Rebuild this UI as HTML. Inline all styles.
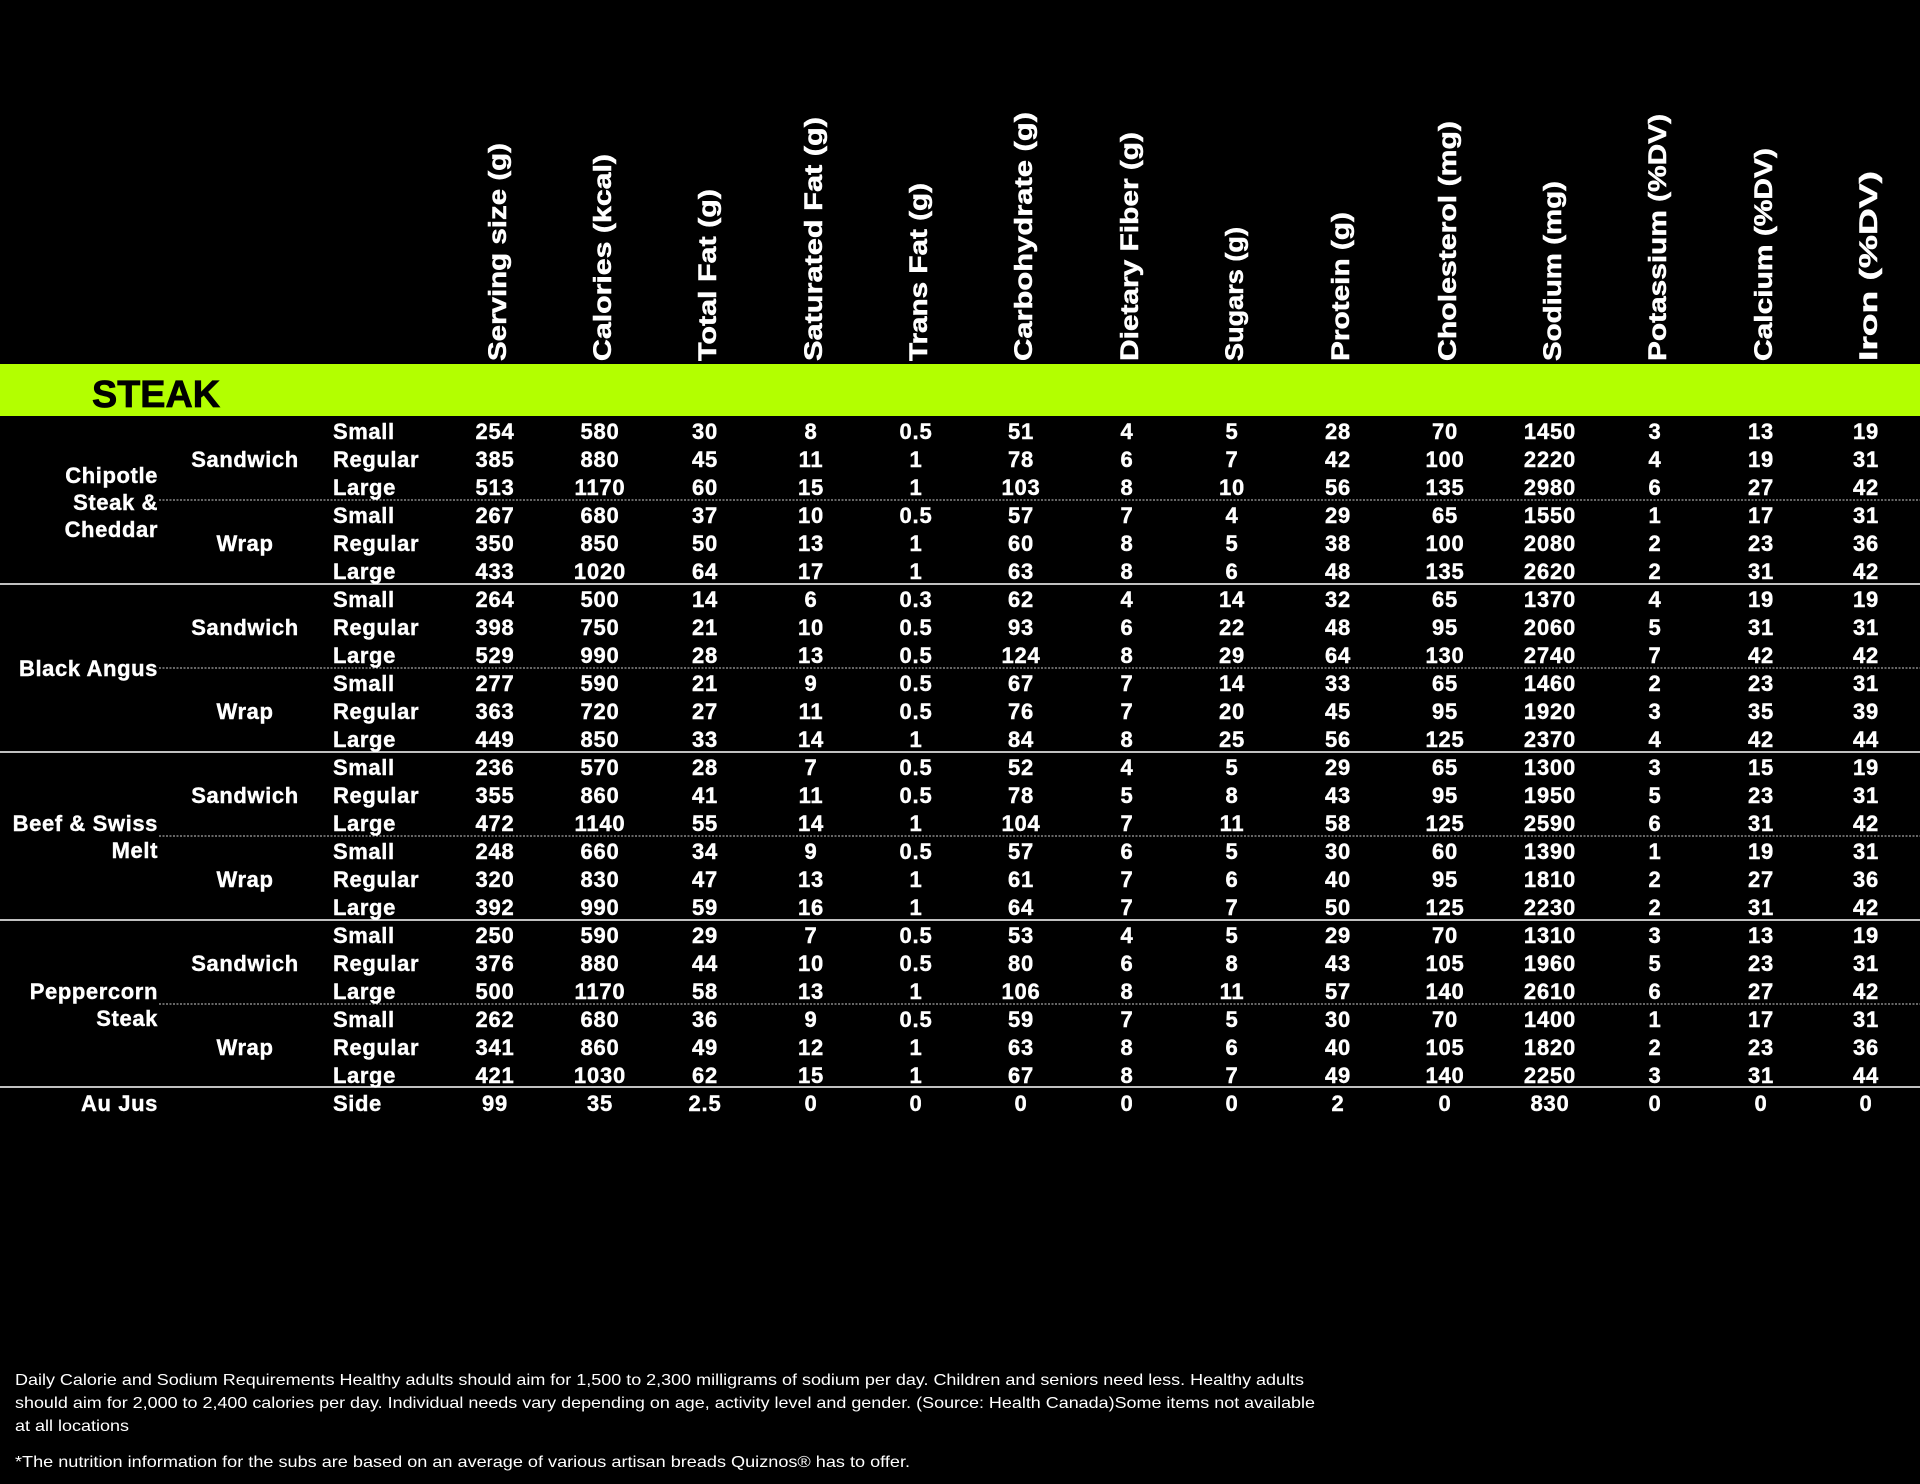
<!DOCTYPE html>
<html><head><meta charset="utf-8"><style>
html,body{margin:0;padding:0;background:#000;}
svg{display:block;}
.h{font-family:"Liberation Sans",sans-serif;font-weight:bold;font-size:25px;fill:#fff;stroke:#fff;stroke-width:0.5px;}
.d text{font-family:"Liberation Sans",sans-serif;font-weight:bold;font-size:22px;letter-spacing:0.8px;fill:#fff;text-anchor:middle;stroke:#fff;stroke-width:0.4px;}
.n{font-family:"Liberation Sans",sans-serif;font-weight:bold;font-size:22px;letter-spacing:0.6px;fill:#fff;stroke:#fff;stroke-width:0.4px;}
.f{font-family:"Liberation Sans",sans-serif;font-size:16px;fill:#fff;}
</style></head><body>
<svg width="1920" height="1484" viewBox="0 0 1920 1484" xmlns="http://www.w3.org/2000/svg">
<rect width="1920" height="1484" fill="#000"/>
<g class="h">
<text transform="translate(506,361) rotate(-90)" textLength="218" lengthAdjust="spacingAndGlyphs">Serving size (g)</text>
<text transform="translate(611,361) rotate(-90)" textLength="207" lengthAdjust="spacingAndGlyphs">Calories (kcal)</text>
<text transform="translate(716,361) rotate(-90)" textLength="172" lengthAdjust="spacingAndGlyphs">Total Fat (g)</text>
<text transform="translate(822,361) rotate(-90)" textLength="244" lengthAdjust="spacingAndGlyphs">Saturated Fat (g)</text>
<text transform="translate(927,361) rotate(-90)" textLength="178" lengthAdjust="spacingAndGlyphs">Trans Fat (g)</text>
<text transform="translate(1032,361) rotate(-90)" textLength="249" lengthAdjust="spacingAndGlyphs">Carbohydrate (g)</text>
<text transform="translate(1138,361) rotate(-90)" textLength="229" lengthAdjust="spacingAndGlyphs">Dietary Fiber (g)</text>
<text transform="translate(1243,361) rotate(-90)" textLength="134" lengthAdjust="spacingAndGlyphs">Sugars (g)</text>
<text transform="translate(1349,361) rotate(-90)" textLength="149" lengthAdjust="spacingAndGlyphs">Protein (g)</text>
<text transform="translate(1456,361) rotate(-90)" textLength="240" lengthAdjust="spacingAndGlyphs">Cholesterol (mg)</text>
<text transform="translate(1561,361) rotate(-90)" textLength="180" lengthAdjust="spacingAndGlyphs">Sodium (mg)</text>
<text transform="translate(1666,361) rotate(-90)" textLength="247" lengthAdjust="spacingAndGlyphs">Potassium (%DV)</text>
<text transform="translate(1772,361) rotate(-90)" textLength="213" lengthAdjust="spacingAndGlyphs">Calcium (%DV)</text>
<text transform="translate(1877,361) rotate(-90)" textLength="190" lengthAdjust="spacingAndGlyphs">Iron (%DV)</text>
</g>
<rect x="0" y="364" width="1920" height="52" fill="#b3ff00"/>
<text x="92" y="407" font-family="Liberation Sans,sans-serif" font-weight="bold" font-size="38" fill="#000" stroke="#000" stroke-width="0.8" textLength="128" lengthAdjust="spacingAndGlyphs">STEAK</text>

<g stroke="#fff" stroke-width="1.5">
<line x1="0" y1="584" x2="1920" y2="584"/>
<line x1="0" y1="752" x2="1920" y2="752"/>
<line x1="0" y1="920" x2="1920" y2="920"/>
<line x1="0" y1="1087" x2="1920" y2="1087"/>
</g>
<g stroke="#ccc" stroke-width="1" stroke-dasharray="2,1.5">
<line x1="159" y1="500" x2="1920" y2="500"/>
<line x1="159" y1="668" x2="1920" y2="668"/>
<line x1="159" y1="836" x2="1920" y2="836"/>
<line x1="159" y1="1004" x2="1920" y2="1004"/>
</g>

<g class="n" text-anchor="end">
<text x="158" y="483">Chipotle</text>
<text x="158" y="510">Steak &amp;</text>
<text x="158" y="537">Cheddar</text>
<text x="158" y="676">Black Angus</text>
<text x="158" y="831">Beef &amp; Swiss</text>
<text x="158" y="858">Melt</text>
<text x="158" y="999">Peppercorn</text>
<text x="158" y="1026">Steak</text>
<text x="158" y="1111">Au Jus</text>
</g>
<g class="n" text-anchor="middle">
<text x="245" y="467">Sandwich</text>
<text x="245" y="551">Wrap</text>
<text x="245" y="635">Sandwich</text>
<text x="245" y="719">Wrap</text>
<text x="245" y="803">Sandwich</text>
<text x="245" y="887">Wrap</text>
<text x="245" y="971">Sandwich</text>
<text x="245" y="1055">Wrap</text>
</g>
<g class="n">
<text x="333" y="439">Small</text><text x="333" y="467">Regular</text><text x="333" y="495">Large</text>
<text x="333" y="523">Small</text><text x="333" y="551">Regular</text><text x="333" y="579">Large</text>
<text x="333" y="607">Small</text><text x="333" y="635">Regular</text><text x="333" y="663">Large</text>
<text x="333" y="691">Small</text><text x="333" y="719">Regular</text><text x="333" y="747">Large</text>
<text x="333" y="775">Small</text><text x="333" y="803">Regular</text><text x="333" y="831">Large</text>
<text x="333" y="859">Small</text><text x="333" y="887">Regular</text><text x="333" y="915">Large</text>
<text x="333" y="943">Small</text><text x="333" y="971">Regular</text><text x="333" y="999">Large</text>
<text x="333" y="1027">Small</text><text x="333" y="1055">Regular</text><text x="333" y="1083">Large</text>
<text x="333" y="1111">Side</text>
</g>

<g class="d">
<g transform="translate(0,439)"><text x="495">254</text><text x="600">580</text><text x="705">30</text><text x="811">8</text><text x="916">0.5</text><text x="1021">51</text><text x="1127">4</text><text x="1232">5</text><text x="1338">28</text><text x="1445">70</text><text x="1550">1450</text><text x="1655">3</text><text x="1761">13</text><text x="1866">19</text></g>
<g transform="translate(0,467)"><text x="495">385</text><text x="600">880</text><text x="705">45</text><text x="811">11</text><text x="916">1</text><text x="1021">78</text><text x="1127">6</text><text x="1232">7</text><text x="1338">42</text><text x="1445">100</text><text x="1550">2220</text><text x="1655">4</text><text x="1761">19</text><text x="1866">31</text></g>
<g transform="translate(0,495)"><text x="495">513</text><text x="600">1170</text><text x="705">60</text><text x="811">15</text><text x="916">1</text><text x="1021">103</text><text x="1127">8</text><text x="1232">10</text><text x="1338">56</text><text x="1445">135</text><text x="1550">2980</text><text x="1655">6</text><text x="1761">27</text><text x="1866">42</text></g>
<g transform="translate(0,523)"><text x="495">267</text><text x="600">680</text><text x="705">37</text><text x="811">10</text><text x="916">0.5</text><text x="1021">57</text><text x="1127">7</text><text x="1232">4</text><text x="1338">29</text><text x="1445">65</text><text x="1550">1550</text><text x="1655">1</text><text x="1761">17</text><text x="1866">31</text></g>
<g transform="translate(0,551)"><text x="495">350</text><text x="600">850</text><text x="705">50</text><text x="811">13</text><text x="916">1</text><text x="1021">60</text><text x="1127">8</text><text x="1232">5</text><text x="1338">38</text><text x="1445">100</text><text x="1550">2080</text><text x="1655">2</text><text x="1761">23</text><text x="1866">36</text></g>
<g transform="translate(0,579)"><text x="495">433</text><text x="600">1020</text><text x="705">64</text><text x="811">17</text><text x="916">1</text><text x="1021">63</text><text x="1127">8</text><text x="1232">6</text><text x="1338">48</text><text x="1445">135</text><text x="1550">2620</text><text x="1655">2</text><text x="1761">31</text><text x="1866">42</text></g>
<g transform="translate(0,607)"><text x="495">264</text><text x="600">500</text><text x="705">14</text><text x="811">6</text><text x="916">0.3</text><text x="1021">62</text><text x="1127">4</text><text x="1232">14</text><text x="1338">32</text><text x="1445">65</text><text x="1550">1370</text><text x="1655">4</text><text x="1761">19</text><text x="1866">19</text></g>
<g transform="translate(0,635)"><text x="495">398</text><text x="600">750</text><text x="705">21</text><text x="811">10</text><text x="916">0.5</text><text x="1021">93</text><text x="1127">6</text><text x="1232">22</text><text x="1338">48</text><text x="1445">95</text><text x="1550">2060</text><text x="1655">5</text><text x="1761">31</text><text x="1866">31</text></g>
<g transform="translate(0,663)"><text x="495">529</text><text x="600">990</text><text x="705">28</text><text x="811">13</text><text x="916">0.5</text><text x="1021">124</text><text x="1127">8</text><text x="1232">29</text><text x="1338">64</text><text x="1445">130</text><text x="1550">2740</text><text x="1655">7</text><text x="1761">42</text><text x="1866">42</text></g>
<g transform="translate(0,691)"><text x="495">277</text><text x="600">590</text><text x="705">21</text><text x="811">9</text><text x="916">0.5</text><text x="1021">67</text><text x="1127">7</text><text x="1232">14</text><text x="1338">33</text><text x="1445">65</text><text x="1550">1460</text><text x="1655">2</text><text x="1761">23</text><text x="1866">31</text></g>
<g transform="translate(0,719)"><text x="495">363</text><text x="600">720</text><text x="705">27</text><text x="811">11</text><text x="916">0.5</text><text x="1021">76</text><text x="1127">7</text><text x="1232">20</text><text x="1338">45</text><text x="1445">95</text><text x="1550">1920</text><text x="1655">3</text><text x="1761">35</text><text x="1866">39</text></g>
<g transform="translate(0,747)"><text x="495">449</text><text x="600">850</text><text x="705">33</text><text x="811">14</text><text x="916">1</text><text x="1021">84</text><text x="1127">8</text><text x="1232">25</text><text x="1338">56</text><text x="1445">125</text><text x="1550">2370</text><text x="1655">4</text><text x="1761">42</text><text x="1866">44</text></g>
<g transform="translate(0,775)"><text x="495">236</text><text x="600">570</text><text x="705">28</text><text x="811">7</text><text x="916">0.5</text><text x="1021">52</text><text x="1127">4</text><text x="1232">5</text><text x="1338">29</text><text x="1445">65</text><text x="1550">1300</text><text x="1655">3</text><text x="1761">15</text><text x="1866">19</text></g>
<g transform="translate(0,803)"><text x="495">355</text><text x="600">860</text><text x="705">41</text><text x="811">11</text><text x="916">0.5</text><text x="1021">78</text><text x="1127">5</text><text x="1232">8</text><text x="1338">43</text><text x="1445">95</text><text x="1550">1950</text><text x="1655">5</text><text x="1761">23</text><text x="1866">31</text></g>
<g transform="translate(0,831)"><text x="495">472</text><text x="600">1140</text><text x="705">55</text><text x="811">14</text><text x="916">1</text><text x="1021">104</text><text x="1127">7</text><text x="1232">11</text><text x="1338">58</text><text x="1445">125</text><text x="1550">2590</text><text x="1655">6</text><text x="1761">31</text><text x="1866">42</text></g>
<g transform="translate(0,859)"><text x="495">248</text><text x="600">660</text><text x="705">34</text><text x="811">9</text><text x="916">0.5</text><text x="1021">57</text><text x="1127">6</text><text x="1232">5</text><text x="1338">30</text><text x="1445">60</text><text x="1550">1390</text><text x="1655">1</text><text x="1761">19</text><text x="1866">31</text></g>
<g transform="translate(0,887)"><text x="495">320</text><text x="600">830</text><text x="705">47</text><text x="811">13</text><text x="916">1</text><text x="1021">61</text><text x="1127">7</text><text x="1232">6</text><text x="1338">40</text><text x="1445">95</text><text x="1550">1810</text><text x="1655">2</text><text x="1761">27</text><text x="1866">36</text></g>
<g transform="translate(0,915)"><text x="495">392</text><text x="600">990</text><text x="705">59</text><text x="811">16</text><text x="916">1</text><text x="1021">64</text><text x="1127">7</text><text x="1232">7</text><text x="1338">50</text><text x="1445">125</text><text x="1550">2230</text><text x="1655">2</text><text x="1761">31</text><text x="1866">42</text></g>
<g transform="translate(0,943)"><text x="495">250</text><text x="600">590</text><text x="705">29</text><text x="811">7</text><text x="916">0.5</text><text x="1021">53</text><text x="1127">4</text><text x="1232">5</text><text x="1338">29</text><text x="1445">70</text><text x="1550">1310</text><text x="1655">3</text><text x="1761">13</text><text x="1866">19</text></g>
<g transform="translate(0,971)"><text x="495">376</text><text x="600">880</text><text x="705">44</text><text x="811">10</text><text x="916">0.5</text><text x="1021">80</text><text x="1127">6</text><text x="1232">8</text><text x="1338">43</text><text x="1445">105</text><text x="1550">1960</text><text x="1655">5</text><text x="1761">23</text><text x="1866">31</text></g>
<g transform="translate(0,999)"><text x="495">500</text><text x="600">1170</text><text x="705">58</text><text x="811">13</text><text x="916">1</text><text x="1021">106</text><text x="1127">8</text><text x="1232">11</text><text x="1338">57</text><text x="1445">140</text><text x="1550">2610</text><text x="1655">6</text><text x="1761">27</text><text x="1866">42</text></g>
<g transform="translate(0,1027)"><text x="495">262</text><text x="600">680</text><text x="705">36</text><text x="811">9</text><text x="916">0.5</text><text x="1021">59</text><text x="1127">7</text><text x="1232">5</text><text x="1338">30</text><text x="1445">70</text><text x="1550">1400</text><text x="1655">1</text><text x="1761">17</text><text x="1866">31</text></g>
<g transform="translate(0,1055)"><text x="495">341</text><text x="600">860</text><text x="705">49</text><text x="811">12</text><text x="916">1</text><text x="1021">63</text><text x="1127">8</text><text x="1232">6</text><text x="1338">40</text><text x="1445">105</text><text x="1550">1820</text><text x="1655">2</text><text x="1761">23</text><text x="1866">36</text></g>
<g transform="translate(0,1083)"><text x="495">421</text><text x="600">1030</text><text x="705">62</text><text x="811">15</text><text x="916">1</text><text x="1021">67</text><text x="1127">8</text><text x="1232">7</text><text x="1338">49</text><text x="1445">140</text><text x="1550">2250</text><text x="1655">3</text><text x="1761">31</text><text x="1866">44</text></g>
<g transform="translate(0,1111)"><text x="495">99</text><text x="600">35</text><text x="705">2.5</text><text x="811">0</text><text x="916">0</text><text x="1021">0</text><text x="1127">0</text><text x="1232">0</text><text x="1338">2</text><text x="1445">0</text><text x="1550">830</text><text x="1655">0</text><text x="1761">0</text><text x="1866">0</text></g>
</g>

<g class="f">
<text x="15" y="1385" textLength="1289" lengthAdjust="spacingAndGlyphs">Daily Calorie and Sodium Requirements Healthy adults should aim for 1,500 to 2,300 milligrams of sodium per day. Children and seniors need less. Healthy adults</text>
<text x="15" y="1408" textLength="1300" lengthAdjust="spacingAndGlyphs">should aim for 2,000 to 2,400 calories per day. Individual needs vary depending on age, activity level and gender. (Source: Health Canada)Some items not available</text>
<text x="15" y="1431" textLength="114" lengthAdjust="spacingAndGlyphs">at all locations</text>
<text x="15" y="1467" textLength="895" lengthAdjust="spacingAndGlyphs">*The nutrition information for the subs are based on an average of various artisan breads Quiznos® has to offer.</text>
</g>
</svg>
</body></html>
